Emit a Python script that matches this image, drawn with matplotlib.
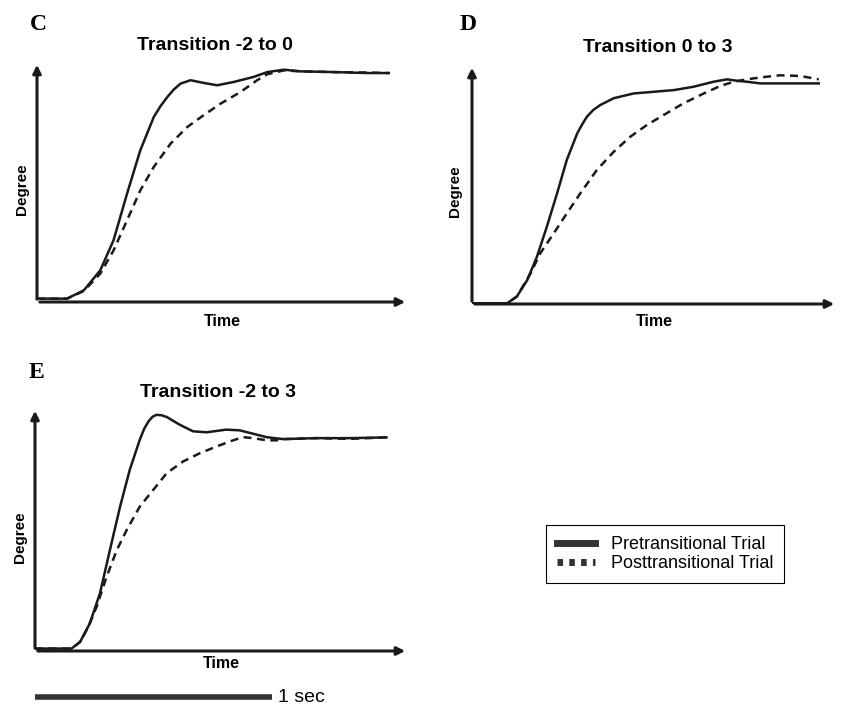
import matplotlib.pyplot as plt
import matplotlib.transforms as mtransforms

# values: time in seconds, degree as fraction of axis height
c_t_pre = [0, 0.127, 0.198, 0.267, 0.323, 0.380, 0.436, 0.493, 0.522, 0.550, 0.578, 0.606, 0.648,
           0.703, 0.760, 0.831, 0.915, 0.972, 1.042, 1.113, 1.253, 1.394, 1.485]
c_pre = [0.014, 0.014, 0.049, 0.132, 0.257, 0.451, 0.632, 0.771, 0.817, 0.854, 0.886, 0.910,
         0.924, 0.913, 0.903, 0.917, 0.938, 0.958, 0.968, 0.961, 0.958, 0.954, 0.954]
c_t_post = [0, 0.127, 0.198, 0.267, 0.323, 0.380, 0.436, 0.493, 0.564, 0.634, 0.703, 0.774,
            0.859, 0.929, 0.972, 1.042, 1.113, 1.253, 1.394, 1.485]
c_post = [0.014, 0.014, 0.046, 0.118, 0.215, 0.340, 0.465, 0.563, 0.660, 0.729, 0.778, 0.826,
          0.875, 0.924, 0.949, 0.965, 0.961, 0.958, 0.956, 0.954]

d_t_pre = [0, 0.148, 0.189, 0.233, 0.274, 0.316, 0.359, 0.400, 0.444, 0.465, 0.485, 0.512, 0.542,
           0.598, 0.682, 0.767, 0.852, 0.935, 1.019, 1.076, 1.118, 1.160, 1.217, 1.329, 1.463]
d_pre = [0.003, 0.003, 0.031, 0.100, 0.198, 0.324, 0.463, 0.603, 0.714, 0.752, 0.784, 0.812,
         0.833, 0.861, 0.881, 0.888, 0.895, 0.909, 0.930, 0.940, 0.934, 0.930, 0.923, 0.923, 0.923]
d_t_post = [0, 0.148, 0.189, 0.246, 0.288, 0.345, 0.400, 0.457, 0.527, 0.598, 0.668, 0.738,
            0.809, 0.893, 0.978, 1.047, 1.104, 1.160, 1.217, 1.301, 1.386, 1.463]
d_post = [0.003, 0.003, 0.031, 0.126, 0.212, 0.296, 0.379, 0.463, 0.561, 0.637, 0.700, 0.749,
          0.791, 0.840, 0.881, 0.912, 0.930, 0.940, 0.948, 0.957, 0.954, 0.940]

e_t_pre = [0, 0.154, 0.190, 0.231, 0.274, 0.316, 0.359, 0.400, 0.442, 0.461, 0.479, 0.496, 0.513,
           0.534, 0.556, 0.611, 0.667, 0.724, 0.807, 0.864, 0.921, 0.977, 1.047, 1.187, 1.328, 1.483]
e_pre = [0.010, 0.010, 0.037, 0.113, 0.237, 0.415, 0.594, 0.746, 0.869, 0.915, 0.945, 0.964,
         0.972, 0.970, 0.963, 0.931, 0.904, 0.900, 0.911, 0.908, 0.894, 0.880, 0.872, 0.876, 0.876, 0.879]
e_t_post = [0, 0.154, 0.190, 0.225, 0.260, 0.302, 0.345, 0.387, 0.442, 0.499, 0.556, 0.625,
            0.696, 0.767, 0.836, 0.878, 0.921, 0.977, 1.018, 1.047, 1.187, 1.328, 1.483]
e_post = [0.010, 0.010, 0.037, 0.099, 0.182, 0.305, 0.415, 0.498, 0.594, 0.663, 0.732, 0.780,
          0.814, 0.842, 0.867, 0.880, 0.876, 0.867, 0.867, 0.872, 0.876, 0.873, 0.879]

W, H = 843, 707
ink = '#1a1a1a'


def px_axes(fig, x0, x1, y_top, y_bot):
    return fig.add_axes([x0 / W, 1 - y_bot / H, (x1 - x0) / W, (y_bot - y_top) / H])


def panel(ax, t_pre, pre, t_post, post, tmax, time_dy, deg_dx):
    ax.plot(t_pre, pre, color=ink, lw=1.8, label='Pretransitional Trial')
    ax.plot(t_post, post, color=ink, lw=1.8, dashes=(3.2, 2.2), label='Posttransitional Trial')
    ax.set_xlim(0, tmax)
    ax.set_ylim(0, 1)
    ax.axis('off')
    # arrow axes
    ax.annotate('', xy=(1, 0), xytext=(0, 0), xycoords='axes fraction',
                arrowprops=dict(arrowstyle='-|>', color=ink, lw=2.2, mutation_scale=12))
    ax.annotate('', xy=(0, 1), xytext=(0, 0), xycoords='axes fraction',
                arrowprops=dict(arrowstyle='-|>', color=ink, lw=2.2, mutation_scale=12))
    ax.annotate('Time', xy=(0.5, 0), xycoords='axes fraction', xytext=(0, -time_dy),
                textcoords='offset pixels', ha='center', va='center',
                fontsize=11.5, fontweight='bold', family='Liberation Sans')
    ax.annotate('Degree', xy=(0, 0.47), xycoords='axes fraction', xytext=(-deg_dx, 0),
                textcoords='offset pixels', ha='center', va='center', rotation=90,
                fontsize=11, fontweight='bold', family='Liberation Sans')


fig = plt.figure(figsize=(W / 100, H / 100), dpi=100)

axC = px_axes(fig, 37, 408, 62, 302)
panel(axC, c_t_pre, c_pre, c_t_post, c_post, 1.566, 20, 15)
axD = px_axes(fig, 472, 837, 65, 304)
panel(axD, d_t_pre, d_pre, d_t_post, d_post, 1.54, 18, 17)
axE = px_axes(fig, 35, 408, 408, 651)
panel(axE, e_t_pre, e_pre, e_t_post, e_post, 1.574, 13, 15)

# titles and panel letters
for (x, y, s) in [(215, 45, 'Transition -2 to 0'), (658, 48, 'Transition 0 to 3'),
                  (218, 392, 'Transition -2 to 3')]:
    fig.text(x / W, 1 - y / H, s, ha='center', va='center', fontsize=14,
             fontweight='bold', family='Liberation Sans')
for (x, y, s) in [(38, 25, 'C'), (468, 25, 'D'), (36, 372, 'E')]:
    fig.text(x / W, 1 - y / H, s, ha='center', va='center', fontsize=17,
             fontweight='bold', family='Liberation Serif')

# legend
handles, labels = axE.get_legend_handles_labels()
leg = fig.legend(handles, labels, loc='upper left', bbox_to_anchor=(546 / W, 1 - 525 / H),
                 frameon=True, fancybox=False, edgecolor='black', framealpha=1,
                 prop={'family': 'Liberation Sans', 'size': 13}, handlelength=2.1,
                 borderpad=0.6, labelspacing=0.12, handletextpad=0.9, borderaxespad=0)
leg.get_frame().set_linewidth(0.8)
leg.legend_handles[0].set_linewidth(5)
leg.legend_handles[0].set_color('#333333')
leg.legend_handles[1].set_linewidth(5)
leg.legend_handles[1].set_dashes((0.8, 0.9))
leg.legend_handles[1].set_color('#333333')

# 1 sec scale bar, drawn in the time units of panel E
trans = mtransforms.blended_transform_factory(axE.transData, fig.transFigure)
axE.plot([0, 1.0], [1 - 697 / H, 1 - 697 / H], color='#333333', lw=4, transform=trans,
         clip_on=False, solid_capstyle='butt')
fig.text(278 / W, 1 - 697 / H, '1 sec', ha='left', va='center', fontsize=14,
         family='Liberation Sans')

plt.savefig('out.png', dpi=100)
